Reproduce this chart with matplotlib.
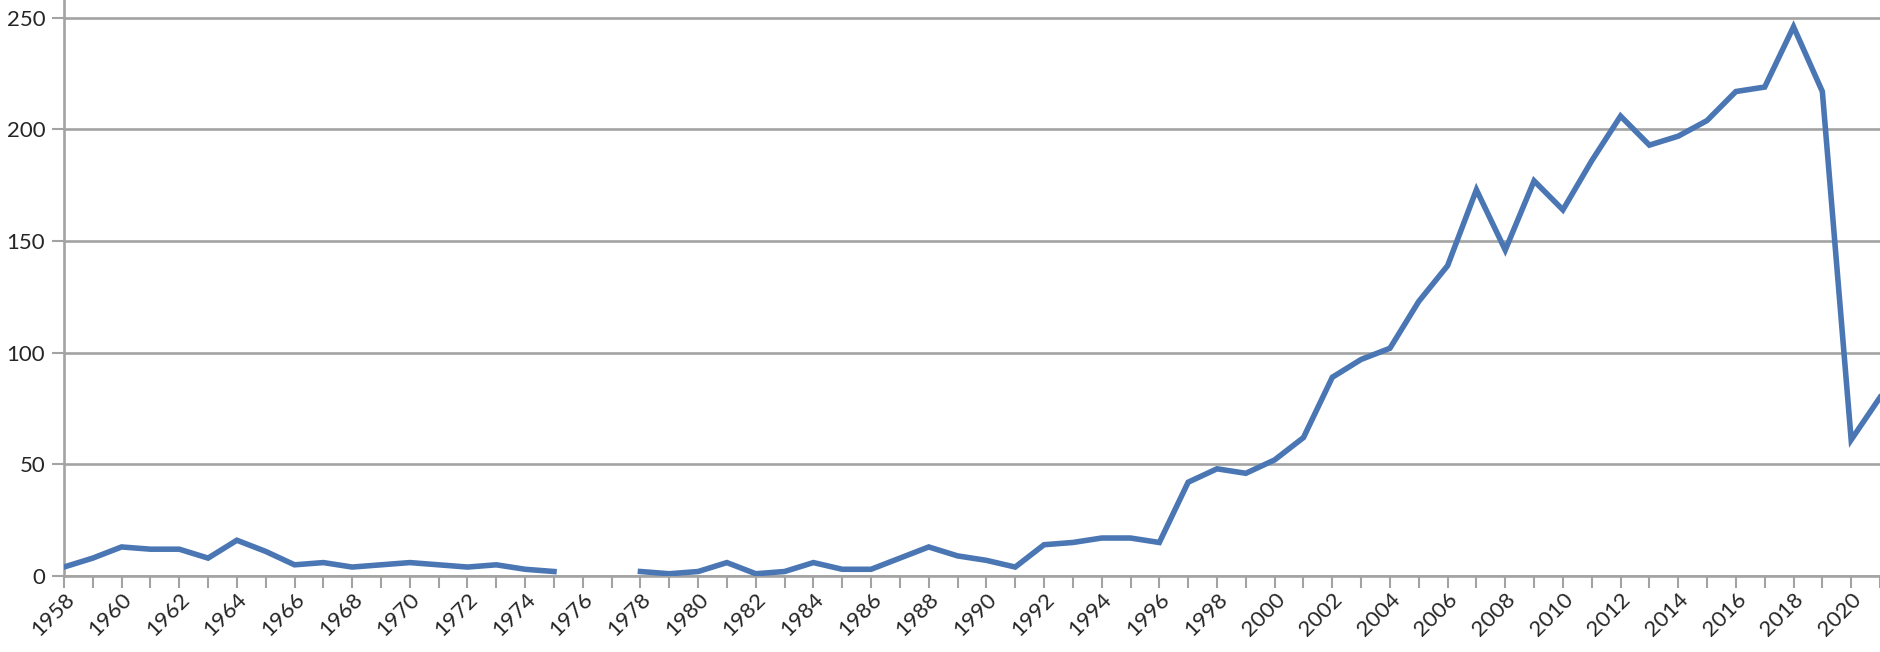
import numpy as np
import matplotlib.pyplot as plt

# yearly counts, 1976 and 1977 have no data
years = list(range(1958, 2022))
counts = [4, 8, 13, 12, 12, 8, 16, 11, 5, 6,
          4, 5, 6, 5, 4, 5, 3, 2, np.nan, np.nan,
          2, 1, 2, 6, 1, 2, 6, 3, 3, 8,
          13, 9, 7, 4, 14, 15, 17, 17, 15, 42,
          48, 46, 52, 62, 89, 97, 102, 123, 139, 173,
          146, 177, 164, 186, 206, 193, 197, 204, 217, 219,
          246, 217, 61, 80]
tick_labels = [str(y) if y % 2 == 0 else '' for y in years]
y_ticks = [0, 50, 100, 150, 200, 250]

line_color = '#4a76b4'
grid_color = '#a3a3a3'


def main():
	plt.rcParams['font.family'] = ['Lato', 'DejaVu Sans']
	fig = plt.figure(figsize=(18.8, 6.52), dpi=100)
	ax = fig.add_axes([0.034, 0.1166, 0.966, 0.8834])

	ax.plot(years, counts, color=line_color, linewidth=4.0, solid_joinstyle='miter', zorder=3)

	ax.set_xlim(1958, 2020.76)
	ax.set_ylim(0, 258)
	ax.set_yticks(y_ticks)
	ax.set_xticks(years)
	ax.set_xticklabels(tick_labels, rotation=45, ha='right', va='top', rotation_mode='anchor')

	ax.yaxis.grid(True, color=grid_color, linewidth=1.9)
	ax.set_axisbelow(True)
	for side in ['top', 'right']:
		ax.spines[side].set_visible(False)
	for side in ['left', 'bottom']:
		ax.spines[side].set_color(grid_color)
		ax.spines[side].set_linewidth(1.9)

	ax.tick_params(axis='both', colors=grid_color, length=8.5, width=1.5, labelsize=16, labelcolor='#262626')
	ax.tick_params(axis='x', pad=1)
	ax.tick_params(axis='y', pad=5)

	fig.savefig('out.png', dpi=100)


if __name__ == '__main__':
	main()
